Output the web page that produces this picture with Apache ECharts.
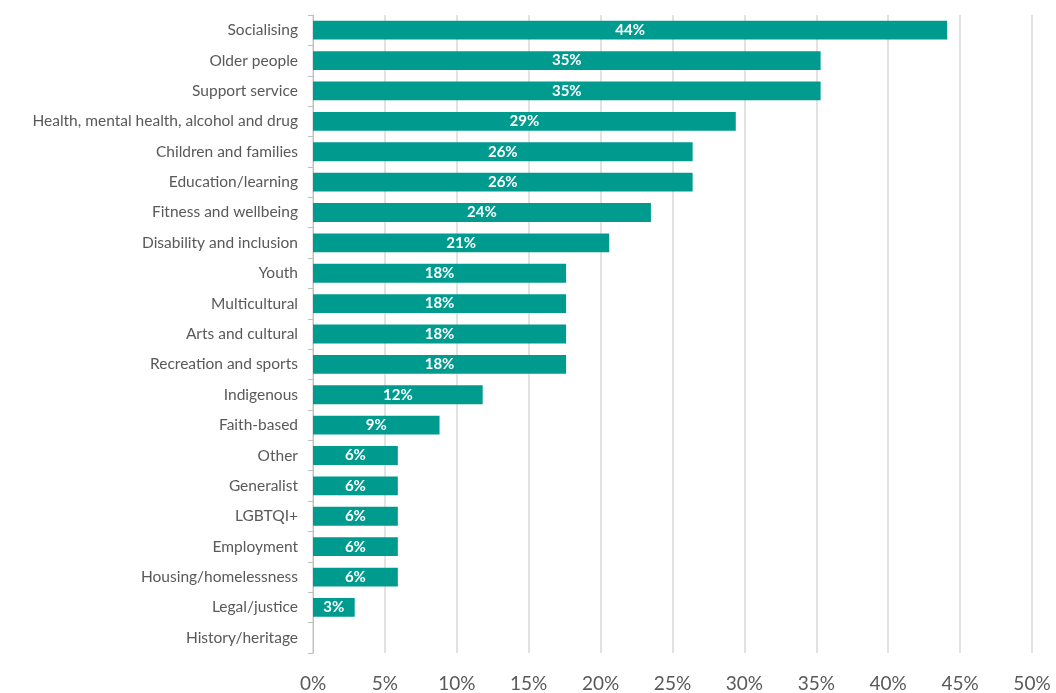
<!DOCTYPE html>
<html>
<head>
<meta charset="utf-8">
<script src="https://cdn.jsdelivr.net/npm/echarts@6/dist/echarts.min.js"></script>
<style>
html,body{margin:0;padding:0;background:#fff;}
#chart{width:1056px;height:693px;}
</style>
</head>
<body>
<div id="chart"></div>
<script>
const categories = [
  "Socialising","Older people","Support service","Health, mental health, alcohol and drug",
  "Children and families","Education/learning","Fitness and wellbeing","Disability and inclusion",
  "Youth","Multicultural","Arts and cultural","Recreation and sports","Indigenous","Faith-based",
  "Other","Generalist","LGBTQI+","Employment","Housing/homelessness","Legal/justice","History/heritage"
];
const values = [44.1,35.3,35.3,29.4,26.4,26.4,23.5,20.6,17.6,17.6,17.6,17.6,11.8,8.8,5.9,5.9,5.9,5.9,5.9,2.9,0];
const xTicks = [0,5,10,15,20,25,30,35,40,45,50];

const chart = echarts.init(document.getElementById('chart'));
chart.setOption({
  animation:false,
  grid:{left:313,right:24,top:15,bottom:37,containLabel:false},
  xAxis:{
    type:'value',min:xTicks[0],max:xTicks[xTicks.length-1],interval:xTicks[1]-xTicks[0],
    axisLine:{show:false},axisTick:{show:false},
    splitLine:{lineStyle:{color:'#d9d9d9',width:1.5}},
    axisLabel:{formatter:v=>v+'%',color:'#595959',fontFamily:'Lato',fontSize:19,margin:21}
  },
  yAxis:{
    type:'category',data:categories,inverse:true,
    axisLine:{lineStyle:{color:'#bfbfbf',width:1}},
    axisTick:{show:true,length:5,lineStyle:{color:'#bfbfbf'}},
    axisLabel:{color:'#595959',fontFamily:'Lato',fontSize:15.5,margin:15}
  },
  series:[{
    type:'bar',data:values,barCategoryGap:'38%',
    itemStyle:{color:'#009B8F'},
    label:{show:true,position:'inside',color:'#fff',fontFamily:'Lato',fontWeight:'bold',fontSize:15,
      formatter:p=>p.value>0?Math.round(p.value)+'%':''}
  }]
});
</script>
</body>
</html>
